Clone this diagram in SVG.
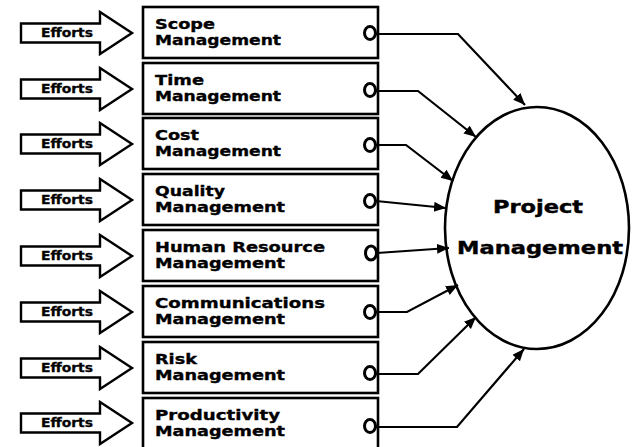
<svg xmlns="http://www.w3.org/2000/svg" width="638" height="447" viewBox="0 0 638 447">
<style>
.box{fill:#fff;stroke:#000;stroke-width:2.6}
.eff{fill:#fff;stroke:#000;stroke-width:2.4;stroke-linejoin:miter}
.port{fill:#fff;stroke:#000;stroke-width:3}
.t{font-family:"DejaVu Sans",Verdana,sans-serif;font-weight:bold;font-size:14.5px;fill:#000;stroke:#000;stroke-width:0.35}
.et{font-family:"DejaVu Sans",Verdana,sans-serif;font-weight:bold;font-size:11.5px;fill:#000;stroke:#000;stroke-width:0.3}
.ct{font-family:"DejaVu Sans",Verdana,sans-serif;font-weight:bold;font-size:17px;fill:#000;stroke:#000;stroke-width:0.4}
.c{fill:none;stroke:#000;stroke-width:2.2}
</style>
<defs>
<marker id="ah" markerUnits="userSpaceOnUse" markerWidth="14" markerHeight="12" refX="12" refY="5" orient="auto">
<path d="M0,0 L12,5 L0,10 Z" fill="#000"/>
</marker>
<path id="effArrow" d="M21,-9.5 H100 V-21 L132,0 L100,21 V9.5 H21 Z"/>
</defs>

<g id="project-management">
<ellipse cx="537" cy="228" rx="92" ry="121" fill="#fff" stroke="#000" stroke-width="2.6"/>
<text class="ct" x="538" y="213" text-anchor="middle" textLength="90" lengthAdjust="spacingAndGlyphs">Project</text>
<text class="ct" x="540" y="254" text-anchor="middle" textLength="166" lengthAdjust="spacingAndGlyphs">Management</text>
</g>

<g id="efforts-1"><use href="#effArrow" class="eff" transform="translate(0,33)"/><text class="et" x="41" y="37" textLength="52" lengthAdjust="spacingAndGlyphs">Efforts</text></g>
<g id="efforts-2"><use href="#effArrow" class="eff" transform="translate(0,89)"/><text class="et" x="41" y="93" textLength="52" lengthAdjust="spacingAndGlyphs">Efforts</text></g>
<g id="efforts-3"><use href="#effArrow" class="eff" transform="translate(0,144)"/><text class="et" x="41" y="148" textLength="52" lengthAdjust="spacingAndGlyphs">Efforts</text></g>
<g id="efforts-4"><use href="#effArrow" class="eff" transform="translate(0,200)"/><text class="et" x="41" y="204" textLength="52" lengthAdjust="spacingAndGlyphs">Efforts</text></g>
<g id="efforts-5"><use href="#effArrow" class="eff" transform="translate(0,256)"/><text class="et" x="41" y="260" textLength="52" lengthAdjust="spacingAndGlyphs">Efforts</text></g>
<g id="efforts-6"><use href="#effArrow" class="eff" transform="translate(0,312)"/><text class="et" x="41" y="316" textLength="52" lengthAdjust="spacingAndGlyphs">Efforts</text></g>
<g id="efforts-7"><use href="#effArrow" class="eff" transform="translate(0,368)"/><text class="et" x="41" y="372" textLength="52" lengthAdjust="spacingAndGlyphs">Efforts</text></g>
<g id="efforts-8"><use href="#effArrow" class="eff" transform="translate(0,423)"/><text class="et" x="41" y="427" textLength="52" lengthAdjust="spacingAndGlyphs">Efforts</text></g>

<g id="scope">
<rect class="box" x="143" y="7" width="235" height="51"/>
<text class="t" x="155" y="29" textLength="60" lengthAdjust="spacingAndGlyphs">Scope</text>
<text class="t" x="155" y="45" textLength="126" lengthAdjust="spacingAndGlyphs">Management</text>
<ellipse class="port" cx="370" cy="33" rx="5.5" ry="6.5"/>
</g>
<g id="time">
<rect class="box" x="143" y="63" width="235" height="51"/>
<text class="t" x="155" y="85" textLength="49" lengthAdjust="spacingAndGlyphs">Time</text>
<text class="t" x="155" y="101" textLength="126" lengthAdjust="spacingAndGlyphs">Management</text>
<ellipse class="port" cx="370" cy="90" rx="5.5" ry="6.5"/>
</g>
<g id="cost">
<rect class="box" x="143" y="118" width="235" height="51"/>
<text class="t" x="155" y="140" textLength="44" lengthAdjust="spacingAndGlyphs">Cost</text>
<text class="t" x="155" y="156" textLength="126" lengthAdjust="spacingAndGlyphs">Management</text>
<ellipse class="port" cx="370" cy="145" rx="5.5" ry="6.5"/>
</g>
<g id="quality">
<rect class="box" x="143" y="174" width="235" height="51"/>
<text class="t" x="155" y="196" textLength="70" lengthAdjust="spacingAndGlyphs">Quality</text>
<text class="t" x="155" y="212" textLength="130" lengthAdjust="spacingAndGlyphs">Management</text>
<ellipse class="port" cx="370" cy="201" rx="5.5" ry="6.5"/>
</g>
<g id="human-resource">
<rect class="box" x="143" y="230" width="235" height="51"/>
<text class="t" x="155" y="252" textLength="170" lengthAdjust="spacingAndGlyphs">Human Resource</text>
<text class="t" x="155" y="268" textLength="130" lengthAdjust="spacingAndGlyphs">Management</text>
<ellipse class="port" cx="371" cy="253" rx="5.5" ry="7"/>
</g>
<g id="communications">
<rect class="box" x="143" y="286" width="235" height="51"/>
<text class="t" x="155" y="308" textLength="170" lengthAdjust="spacingAndGlyphs">Communications</text>
<text class="t" x="155" y="324" textLength="130" lengthAdjust="spacingAndGlyphs">Management</text>
<ellipse class="port" cx="370" cy="312" rx="5.5" ry="6.5"/>
</g>
<g id="risk">
<rect class="box" x="143" y="342" width="235" height="51"/>
<text class="t" x="155" y="364" textLength="42" lengthAdjust="spacingAndGlyphs">Risk</text>
<text class="t" x="155" y="380" textLength="130" lengthAdjust="spacingAndGlyphs">Management</text>
<ellipse class="port" cx="370" cy="373" rx="5.5" ry="6.5"/>
</g>
<g id="productivity">
<rect class="box" x="143" y="398" width="235" height="51"/>
<text class="t" x="155" y="420" textLength="125" lengthAdjust="spacingAndGlyphs">Productivity</text>
<text class="t" x="155" y="436" textLength="130" lengthAdjust="spacingAndGlyphs">Management</text>
<ellipse class="port" cx="370" cy="426" rx="5.5" ry="6.5"/>
</g>

<g id="connectors">
<polyline class="c" points="376,34 458,34 525,105" marker-end="url(#ah)"/>
<polyline class="c" points="376,91 418,91 476,137" marker-end="url(#ah)"/>
<polyline class="c" points="376,145 406,145 453,181" marker-end="url(#ah)"/>
<polyline class="c" points="376,201 446,208" marker-end="url(#ah)"/>
<polyline class="c" points="377,253 449,248" marker-end="url(#ah)"/>
<polyline class="c" points="376,312 407,312 458,285" marker-end="url(#ah)"/>
<polyline class="c" points="376,374 418,374 476,317" marker-end="url(#ah)"/>
<polyline class="c" points="376,427 457,427 524,349" marker-end="url(#ah)"/>
</g>
</svg>
